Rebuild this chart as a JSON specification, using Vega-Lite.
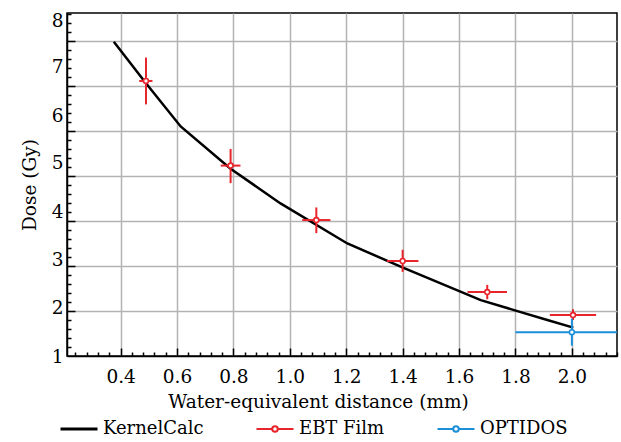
{
  "$schema": "https://vega.github.io/schema/vega-lite/v6.json",
  "width": 550,
  "height": 343,
  "autosize": {"type": "none"},
  "padding": {"left": 67, "top": 13, "right": 4, "bottom": 86},
  "background": "white",
  "config": {
    "font": "DejaVu Serif",
    "view": {"stroke": "black", "strokeWidth": 1.5},
    "axis": {
      "labelFont": "DejaVu Serif",
      "titleFont": "DejaVu Serif",
      "labelFontSize": 18.5,
      "titleFontSize": 18.5,
      "labelColor": "black",
      "titleColor": "black",
      "titleFontWeight": "normal",
      "domainColor": "black",
      "domainWidth": 1.5,
      "tickColor": "black",
      "tickWidth": 1.5,
      "gridColor": "#b3b3b3",
      "gridWidth": 1.5
    }
  },
  "datasets": {
    "curve": [
      {"series": "KernelCalc", "distance": 0.376, "dose": 7.98},
      {"series": "KernelCalc", "distance": 0.49, "dose": 7.06},
      {"series": "KernelCalc", "distance": 0.613, "dose": 6.1},
      {"series": "KernelCalc", "distance": 0.79, "dose": 5.16},
      {"series": "KernelCalc", "distance": 0.967, "dose": 4.39},
      {"series": "KernelCalc", "distance": 1.204, "dose": 3.5},
      {"series": "KernelCalc", "distance": 1.399, "dose": 2.97},
      {"series": "KernelCalc", "distance": 1.677, "dose": 2.24},
      {"series": "KernelCalc", "distance": 1.795, "dose": 2.02},
      {"series": "KernelCalc", "distance": 1.913, "dose": 1.8},
      {"series": "KernelCalc", "distance": 2.005, "dose": 1.63}
    ],
    "measured": [
      {"series": "EBT Film", "distance": 0.49, "dose": 7.11, "doseLow": 6.59, "doseHigh": 7.63, "distLow": 0.466, "distHigh": 0.513},
      {"series": "EBT Film", "distance": 0.79, "dose": 5.23, "doseLow": 4.84, "doseHigh": 5.6, "distLow": 0.755, "distHigh": 0.825},
      {"series": "EBT Film", "distance": 1.094, "dose": 4.02, "doseLow": 3.73, "doseHigh": 4.3, "distLow": 1.044, "distHigh": 1.144},
      {"series": "EBT Film", "distance": 1.4, "dose": 3.11, "doseLow": 2.87, "doseHigh": 3.36, "distLow": 1.344, "distHigh": 1.456},
      {"series": "EBT Film", "distance": 1.7, "dose": 2.42, "doseLow": 2.26, "doseHigh": 2.58, "distLow": 1.63, "distHigh": 1.77},
      {"series": "EBT Film", "distance": 2.004, "dose": 1.91, "doseLow": 1.8, "doseHigh": 2.04, "distLow": 1.922, "distHigh": 2.086},
      {"series": "OPTIDOS", "distance": 2.0, "dose": 1.53, "doseLow": 1.23, "doseHigh": 1.83, "distLow": 1.8, "distHigh": 2.2}
    ]
  },
  "resolve": {"axis": {"x": "independent", "y": "independent"}},
  "layer": [
    {
      "data": {"name": "curve"},
      "mark": {"type": "line", "strokeWidth": 2.5},
      "encoding": {
        "x": {
          "field": "distance", "type": "quantitative",
          "scale": {"domain": [0.21, 2.16], "nice": false, "zero": false},
          "axis": {"orient": "bottom", "values": [0.4, 0.6, 0.8, 1.0, 1.2, 1.4, 1.6, 1.8, 2.0], "grid": true, "labels": false, "tickSize": -8, "title": null}
        },
        "y": {
          "field": "dose", "type": "quantitative",
          "scale": {"domain": [1, 8.62], "nice": false, "zero": false},
          "axis": {"orient": "left", "values": [2, 3, 4, 5, 6, 7, 8], "grid": true, "labels": false, "tickSize": -8, "title": null}
        },
        "color": {
          "field": "series", "type": "nominal",
          "scale": {"domain": ["KernelCalc", "EBT Film", "OPTIDOS"], "range": ["#000000", "#e8242c", "#1b8fd8"]},
          "legend": {
            "title": null,
            "orient": "none",
            "legendX": 3,
            "legendY": 407,
            "direction": "horizontal",
            "columns": 3,
            "columnPadding": 48,
            "symbolSize": 1369,
            "symbolStrokeWidth": 2,
            "labelFont": "DejaVu Serif",
            "labelFontSize": 18,
            "labelColor": "black",
            "labelOffset": 15,
            "labelLimit": 300,
            "encode": {
              "symbols": {
                "update": {
                  "shape": {"signal": "datum.value === 'KernelCalc' ? 'M-1,0H1' : 'M-1,0H-0.15A0.15,0.15 0 1,1 0.15,0A0.15,0.15 0 1,1 -0.15,0M0.15,0H1'"},
                  "fill": {"value": "white"},
                  "strokeWidth": {"signal": "datum.value === 'KernelCalc' ? 3 : 2"}
                }
              }
            }
          }
        }
      }
    },
    {
      "data": {"name": "measured"},
      "mark": {"type": "rule", "strokeWidth": 2, "clip": true},
      "encoding": {
        "x": {
          "field": "distance", "type": "quantitative",
          "axis": {"orient": "bottom", "values": [0.24, 0.28, 0.32, 0.36, 0.44, 0.48, 0.52, 0.56, 0.64, 0.68, 0.72, 0.76, 0.84, 0.88, 0.92, 0.96, 1.04, 1.08, 1.12, 1.16, 1.24, 1.28, 1.32, 1.36, 1.44, 1.48, 1.52, 1.56, 1.64, 1.68, 1.72, 1.76, 1.84, 1.88, 1.92, 1.96, 2.04, 2.08, 2.12, 2.16], "grid": false, "labels": false, "domain": false, "tickSize": -4, "title": null}
        },
        "y": {
          "field": "doseLow", "type": "quantitative",
          "axis": {"orient": "left", "values": [1.2, 1.4, 1.6, 1.8, 2.2, 2.4, 2.6, 2.8, 3.2, 3.4, 3.6, 3.8, 4.2, 4.4, 4.6, 4.8, 5.2, 5.4, 5.6, 5.8, 6.2, 6.4, 6.6, 6.8, 7.2, 7.4, 7.6, 7.8, 8.2, 8.4, 8.6], "grid": false, "labels": false, "domain": false, "tickSize": -4, "title": null}
        },
        "y2": {"field": "doseHigh"},
        "color": {"field": "series", "type": "nominal"}
      }
    },
    {
      "data": {"name": "measured"},
      "mark": {"type": "rule", "strokeWidth": 2, "clip": true},
      "encoding": {
        "x": {"field": "distLow", "type": "quantitative", "axis": null},
        "x2": {"field": "distHigh"},
        "y": {"field": "dose", "type": "quantitative", "axis": null},
        "color": {"field": "series", "type": "nominal"}
      }
    },
    {
      "data": {"name": "measured"},
      "mark": {"type": "point", "shape": "circle", "filled": false, "fill": "white", "fillOpacity": 1, "opacity": 1, "size": 24, "strokeWidth": 1.6},
      "encoding": {
        "x": {
          "field": "distance", "type": "quantitative",
          "axis": {"orient": "bottom", "values": [0.4, 0.6, 0.8, 1.0, 1.2, 1.4, 1.6, 1.8, 2.0], "format": ".1f", "grid": false, "ticks": false, "domain": false, "labelPadding": 11, "title": "Water-equivalent distance (mm)", "titlePadding": 7, "titleX": 251}
        },
        "y": {
          "field": "dose", "type": "quantitative",
          "axis": {"orient": "left", "values": [1, 2.067, 3.133, 4.2, 5.289, 6.333, 7.422, 8.444], "labelExpr": "format(round(datum.value), 'd')", "grid": false, "ticks": false, "domain": false, "labelPadding": 4, "title": "Dose (Gy)", "titlePadding": 12}
        },
        "color": {"field": "series", "type": "nominal"}
      }
    }
  ]
}
